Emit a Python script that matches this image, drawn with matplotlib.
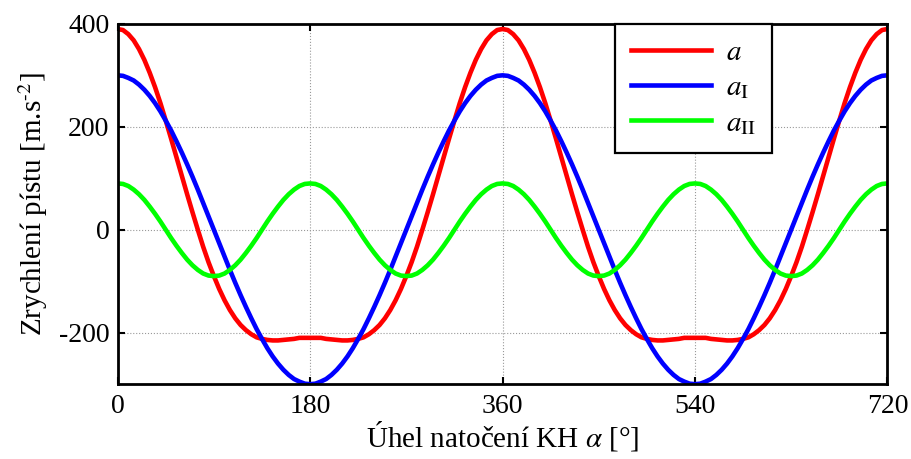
import numpy as np
import matplotlib.pyplot as plt

plt.rcParams['font.family'] = ['Liberation Serif', 'DejaVu Serif']
plt.rcParams['mathtext.fontset'] = 'stix'
plt.rcParams['axes.unicode_minus'] = False

# one crankshaft revolution (0..360 deg, every 5 deg);
# the chart shows the same cycle twice (0..720 deg)
alpha = list(range(0, 721, 5))

a_cycle = [390, 388, 380, 368, 351, 330, 305, 277, 246, 212, 177, 141, 105, 69, 34, 0, -33, -63,
           -90, -115, -137, -156, -172, -185, -195, -203, -209, -212, -214, -215, -215, -214, -213,
           -212, -210, -210, -210, -210, -210, -212, -213, -214, -215, -215, -214, -212, -209, -203,
           -195, -185, -172, -156, -137, -115, -90, -63, -33, 0, 34, 69, 105, 141, 177, 212, 246,
           277, 305, 330, 351, 368, 380, 388, 390]
a1_cycle = [300, 299, 295, 290, 282, 272, 260, 246, 230, 212, 193, 172, 150, 127, 103, 78, 52, 26,
            0, -26, -52, -78, -103, -127, -150, -172, -193, -212, -230, -246, -260, -272, -282,
            -290, -295, -299, -300, -299, -295, -290, -282, -272, -260, -246, -230, -212, -193,
            -172, -150, -127, -103, -78, -52, -26, 0, 26, 52, 78, 103, 127, 150, 172, 193, 212,
            230, 246, 260, 272, 282, 290, 295, 299, 300]
a2_cycle = [90, 89, 85, 78, 69, 58, 45, 31, 16, 0, -16, -31, -45, -58, -69, -78, -85, -89,
            -90, -89, -85, -78, -69, -58, -45, -31, -16, 0, 16, 31, 45, 58, 69, 78, 85, 89,
            90, 89, 85, 78, 69, 58, 45, 31, 16, 0, -16, -31, -45, -58, -69, -78, -85, -89,
            -90, -89, -85, -78, -69, -58, -45, -31, -16, 0, 16, 31, 45, 58, 69, 78, 85, 89,
            90]

a = a_cycle + a_cycle[1:]
a1 = a1_cycle + a1_cycle[1:]
a2 = a2_cycle + a2_cycle[1:]

fig = plt.figure(figsize=(9.12, 4.59), dpi=100)
ax = fig.add_axes([0.129, 0.163, 0.844, 0.785])

ax.plot(alpha, a, color='#ff0000', lw=3.3, label=r'$a$')
ax.plot(alpha, a1, color='#0000ff', lw=3.3, label=r'$a_{\mathrm{I}}$')
ax.plot(alpha, a2, color='#00ff00', lw=3.3, label=r'$a_{\mathrm{II}}$')

ax.set_xlim(0, 720)
ax.set_ylim(-300, 400)
ax.set_xticks([0, 180, 360, 540, 720])
ax.set_yticks([-200, 0, 200, 400])
ax.grid(True, color='#999999', linestyle=':', linewidth=0.8)
ax.tick_params(direction='in', top=True, right=True, length=5, width=1.5, labelsize=20)
ax.tick_params(axis='x', pad=7)
ax.tick_params(axis='y', pad=6)
for s in ax.spines.values():
    s.set_linewidth(2)

ax.set_xlabel('Úhel natočení KH $\\alpha$ [°]', fontsize=21, labelpad=0)
ax.set_ylabel('Zrychlení pístu [m.s$^{\u20102}$]', fontsize=21, labelpad=6)

leg = ax.legend(loc='upper left', bbox_to_anchor=(0.646, 1.0), fontsize=21, fancybox=False,
                edgecolor='black', framealpha=1, handlelength=2.75, handletextpad=0.5,
                borderpad=0.55, labelspacing=0.3, borderaxespad=0)
leg.get_frame().set_linewidth(1.6)

fig.savefig('out.png', dpi=100)
